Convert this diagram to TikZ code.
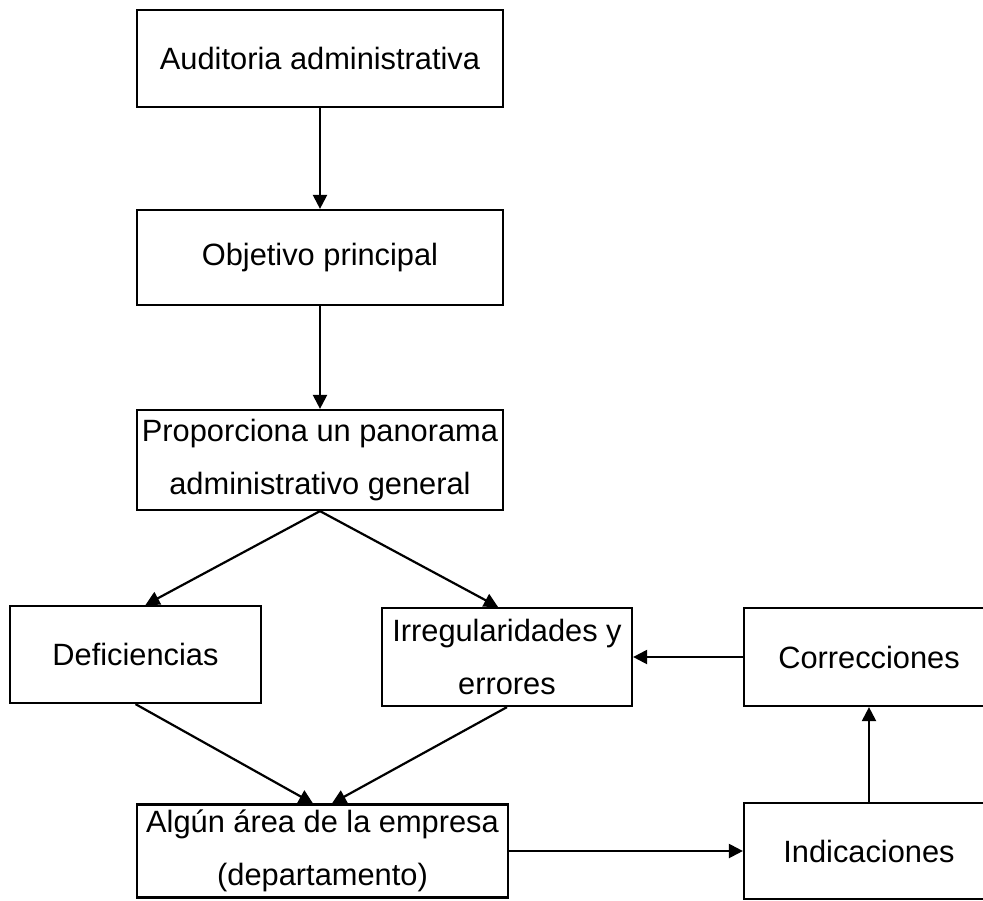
\documentclass[tikz,border=0pt]{standalone}
\usepackage{fontspec}
\setmainfont{Liberation Sans}
\usetikzlibrary{arrows.meta}
\begin{document}
\begin{tikzpicture}[x=1pt,y=-1pt,
  box/.style={draw=black,line width=2.2pt,minimum width=#1,inner sep=0pt,align=center,
    font=\fontsize{30.8pt}{53pt}\selectfont},
  conn/.style={line width=2.2pt,-{Triangle[length=14pt,width=14pt]}}]
\useasboundingbox (0,0) rectangle (983,900);
\clip (0,0) rectangle (983,900);
\fill[white] (0,0) rectangle (983,900);
\node[box=366pt,minimum height=97pt] (b1) at (320,58.5) {Auditoria administrativa};
\node[box=366pt,minimum height=95pt] (b2) at (320,257.5) {Objetivo principal};
\node[box=366pt,minimum height=100pt] (b3) at (320,460) {Proporciona un panorama\\administrativo general};
\node[box=251pt,minimum height=97pt] (b4) at (135.5,654.5) {Deficiencias};
\node[box=250pt,minimum height=98pt] (b5) at (507,657) {Irregularidades y\\errores};
\node[box=250pt,minimum height=98pt] (b6) at (869,657) {Correcciones};
\node[box=371pt,minimum height=93pt] (b7) at (322.5,851) {Algún área de la empresa\\(departamento)};
\node[box=250pt,minimum height=96pt] (b8) at (869,851) {Indicaciones};
\draw[conn] (b1.south) -- (b2.north);
\draw[conn] (b2.south) -- (b3.north);
\draw[conn] (b3.south) -- ([xshift=10pt]b4.north);
\draw[conn] (b3.south) -- ([xshift=-9pt]b5.north);
\draw[conn] (b4.south) -- ([xshift=-9.5pt]b7.north);
\draw[conn] (b5.south) -- ([xshift=9.5pt]b7.north);
\draw[conn] (b6.west) -- (b5.east);
\draw[conn] (b7.east) -- (b8.west);
\draw[conn] (b8.north) -- (b6.south);
\end{tikzpicture}
\end{document}
